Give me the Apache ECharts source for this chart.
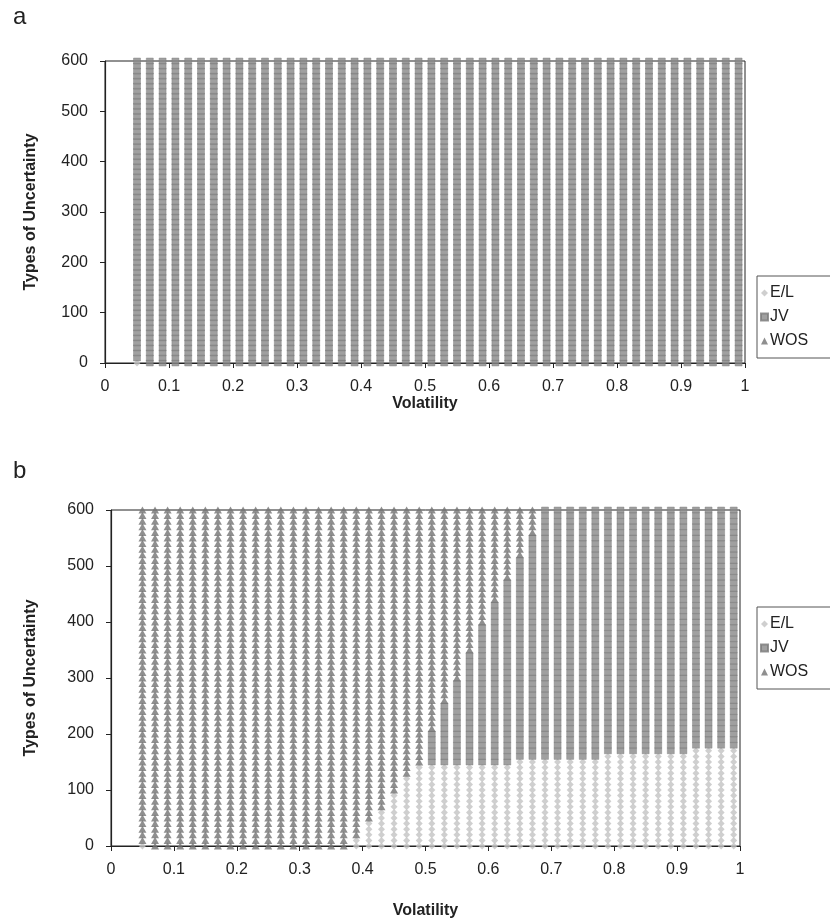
<!DOCTYPE html>
<html>
<head>
<meta charset="utf-8">
<script src="https://cdn.jsdelivr.net/npm/echarts@6/dist/echarts.min.js"></script>
<style>
html,body{margin:0;padding:0;background:#fff;}
#chart{width:830px;height:922px;}
</style>
</head>
<body>
<div id="chart"></div>
<script>
// Volatility columns (x)
const volatility = [0.05,0.07,0.09,0.11,0.13,0.15,0.17,0.19,0.21,0.23,0.25,0.27,0.29,0.31,0.33,0.35,0.37,0.39,0.41,0.43,0.45,0.47,0.49,0.51,0.53,0.55,0.57,0.59,0.61,0.63,0.65,0.67,0.69,0.71,0.73,0.75,0.77,0.79,0.81,0.83,0.85,0.87,0.89,0.91,0.93,0.95,0.97,0.99];
// Types of uncertainty evaluated in each column (y)
const uncertaintyLevels = [0,10,20,30,40,50,60,70,80,90,100,110,120,130,140,150,160,170,180,190,200,210,220,230,240,250,260,270,280,290,300,310,320,330,340,350,360,370,380,390,400,410,420,430,440,450,460,470,480,490,500,510,520,530,540,550,560,570,580,590,600];
// Panel a: highest level chosen as E/L, highest level chosen as JV (rest WOS)
const panelA_elTop = [0,-10,-10,-10,-10,-10,-10,-10,-10,-10,-10,-10,-10,-10,-10,-10,-10,-10,-10,-10,-10,-10,-10,-10,-10,-10,-10,-10,-10,-10,-10,-10,-10,-10,-10,-10,-10,-10,-10,-10,-10,-10,-10,-10,-10,-10,-10,-10];
const panelA_jvTop = [600,600,600,600,600,600,600,600,600,600,600,600,600,600,600,600,600,600,600,600,600,600,600,600,600,600,600,600,600,600,600,600,600,600,600,600,600,600,600,600,600,600,600,600,600,600,600,600];
// Panel b
const panelB_elTop = [0,-10,-10,-10,-10,-10,-10,-10,-10,-10,-10,-10,-10,-10,-10,-10,-10,10,40,60,90,120,140,140,140,140,140,140,140,140,150,150,150,150,150,150,150,160,160,160,160,160,160,160,170,170,170,170];
const panelB_jvTop = [0,-10,-10,-10,-10,-10,-10,-10,-10,-10,-10,-10,-10,-10,-10,-10,-10,10,40,60,90,120,140,200,250,290,340,390,430,470,510,550,600,600,600,600,600,600,600,600,600,600,600,600,600,600,600,600];
const xTicks = ['0','0.1','0.2','0.3','0.4','0.5','0.6','0.7','0.8','0.9','1'];
const seriesNames = ['E/L','JV','WOS'];

function build(elTop, jvTop){
  const el=[], jv=[], wos=[];
  volatility.forEach((x,i)=>{
    uncertaintyLevels.forEach(y=>{
      if (y <= elTop[i]) el.push([x,y]);
      else if (y <= jvTop[i]) jv.push([x,y]);
      else wos.push([x,y]);
    });
  });
  return [el,jv,wos];
}
const A = build(panelA_elTop, panelA_jvTop);
const B = build(panelB_elTop, panelB_jvTop);

const FONT = '"Liberation Sans", Arial, sans-serif';
const styles = [
  {symbol:'diamond', symbolSize:[7,7], itemStyle:{color:'#c3c3c3'}},
  {symbol:'rect', symbolSize:[7,6], itemStyle:{color:'#888888', borderColor:'#7a7a7a', borderWidth:0.5}},
  {symbol:'triangle', symbolSize:[8,7], itemStyle:{color:'#737373'}}
];

function xAxis(gi){
  return {gridIndex:gi, type:'value', min:0, max:1, interval:0.1,
    name:'Volatility', nameLocation:'middle', nameGap: gi===0?32:57,
    nameTextStyle:{fontFamily:FONT, fontSize:16, fontWeight:'bold', color:'#222'},
    axisLine:{lineStyle:{color:'#222', width:1.2}},
    axisTick:{show:true, length:5, lineStyle:{color:'#222'}},
    axisLabel:{fontFamily:FONT, fontSize:16, color:'#222', margin: 16,
      formatter:(v)=>xTicks[Math.round(v*10)]},
    splitLine:{show:false}};
}
function yAxis(gi){
  return {gridIndex:gi, type:'value', min:0, max:600, interval:100,
    name:'Types of Uncertainty', nameLocation:'middle', nameGap: gi===0?66:72,
    nameTextStyle:{fontFamily:FONT, fontSize:16, fontWeight:'bold', color:'#222'},
    axisLine:{show:true, lineStyle:{color:'#222', width:1.2}},
    axisTick:{show:true, length:5, lineStyle:{color:'#222'}},
    axisLabel:{fontFamily:FONT, fontSize:16, color:'#222', margin:17},
    splitLine:{show:false}};
}
function legend(top){
  return {orient:'vertical', left:757, top:top, itemWidth:7, itemHeight:7, itemGap:8,
    padding:[9,30,9,3], borderColor:'#555', borderWidth:1, borderRadius:0,
    textStyle:{fontFamily:FONT, fontSize:16, color:'#222', padding:[0,0,0,-3]},
    data:seriesNames};
}
const series = [];
[A,B].forEach((d,gi)=>{
  d.forEach((pts,k)=>{
    series.push(Object.assign({type:'scatter', name:seriesNames[k], xAxisIndex:gi, yAxisIndex:gi,
      data:pts, silent:true, large:false}, JSON.parse(JSON.stringify(styles[k]))));
  });
});

const chart = echarts.init(document.getElementById('chart'), null, {renderer:'canvas'});
chart.setOption({
  animation:false,
  backgroundColor:'#fff',
  title:[
    {text:'a', left:8, top:0, textStyle:{fontFamily:FONT, fontSize:24, fontWeight:'normal', color:'#222'}},
    {text:'b', left:8, top:454, textStyle:{fontFamily:FONT, fontSize:24, fontWeight:'normal', color:'#222'}}
  ],
  grid:[
    {left:105, right:85, top:61, height:302, show:true, borderColor:'#222', borderWidth:1, backgroundColor:'transparent'},
    {left:111, right:90, top:510, height:336, show:true, borderColor:'#222', borderWidth:1, backgroundColor:'transparent'}
  ],
  legend:[legend(276), legend(607)],
  xAxis:[xAxis(0), xAxis(1)],
  yAxis:[yAxis(0), yAxis(1)],
  series:series
});
</script>
</body>
</html>
